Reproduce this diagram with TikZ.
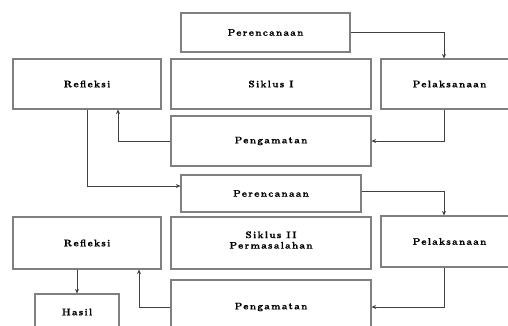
\documentclass[tikz,border=0pt]{standalone}
\usepackage{fontspec}
\setmainfont{Latin Modern Roman}
\usetikzlibrary{arrows.meta}
\begin{document}
\begin{tikzpicture}[x=1pt,y=-1pt,
  box/.style={draw=black!50,line width=1.1pt,rectangle,inner sep=0pt,align=center,
    font=\fontsize{9.5}{10.5}\selectfont\bfseries\addfontfeatures{LetterSpace=14,FakeBold=0.6}},
  arr/.style={draw=black!75,line width=0.9pt,-{Stealth[length=4.5pt,width=4pt]}}]
\useasboundingbox (0,0) rectangle (508,326);
\clip (0,0) rectangle (508,326);
\node[box,minimum width=169pt,minimum height=39pt] (per1) at (265.5,32.5) {Perencanaan};
\node[box,minimum width=148pt,minimum height=50pt] (ref1) at (87,84) {Refleksi};
\node[box,minimum width=200pt,minimum height=50pt] (sik1) at (271,84) {Siklus I};
\node[box,minimum width=137pt,minimum height=50pt] (pel1) at (449.5,84) {Pelaksanaan};
\node[box,minimum width=200pt,minimum height=50pt] (peng1) at (271,141) {Pengamatan};
\node[box,minimum width=180pt,minimum height=37pt] (per2) at (271,193.5) {Perencanaan};
\node[box,minimum width=148pt,minimum height=52pt] (ref2) at (87,243) {Refleksi};
\node[box,minimum width=200pt,minimum height=52pt,text depth=6pt] (sik2) at (271,243) {Siklus II\\Permasalahan};
\node[box,minimum width=137pt,minimum height=51pt] (pel2) at (449.5,241.5) {Pelaksanaan};
\node[box,minimum width=200pt,minimum height=54pt] (peng2) at (271,307) {Pengamatan};
\node[box,minimum width=84pt,minimum height=36pt] (hasil) at (77,312) {Hasil};
\draw[arr] (per1.east) -| ([xshift=-5.5pt]pel1.north);
\draw[arr] ([xshift=-5.5pt]pel1.south) |- (peng1.east);
\draw[arr] (peng1.west) -| ([xshift=31pt]ref1.south);
\draw[arr] (ref1.south) |- ([yshift=7.5pt]per2.west);
\draw[arr] ([yshift=2.5pt]per2.east) -| ([xshift=-5.5pt]pel2.north);
\draw[arr] ([xshift=-5.5pt]pel2.south) |- (peng2.east);
\draw[arr] (peng2.west) -| ([xshift=52pt]ref2.south);
\draw[arr] (hasil.north |- ref2.south) -- (hasil.north);
\end{tikzpicture}
\end{document}
